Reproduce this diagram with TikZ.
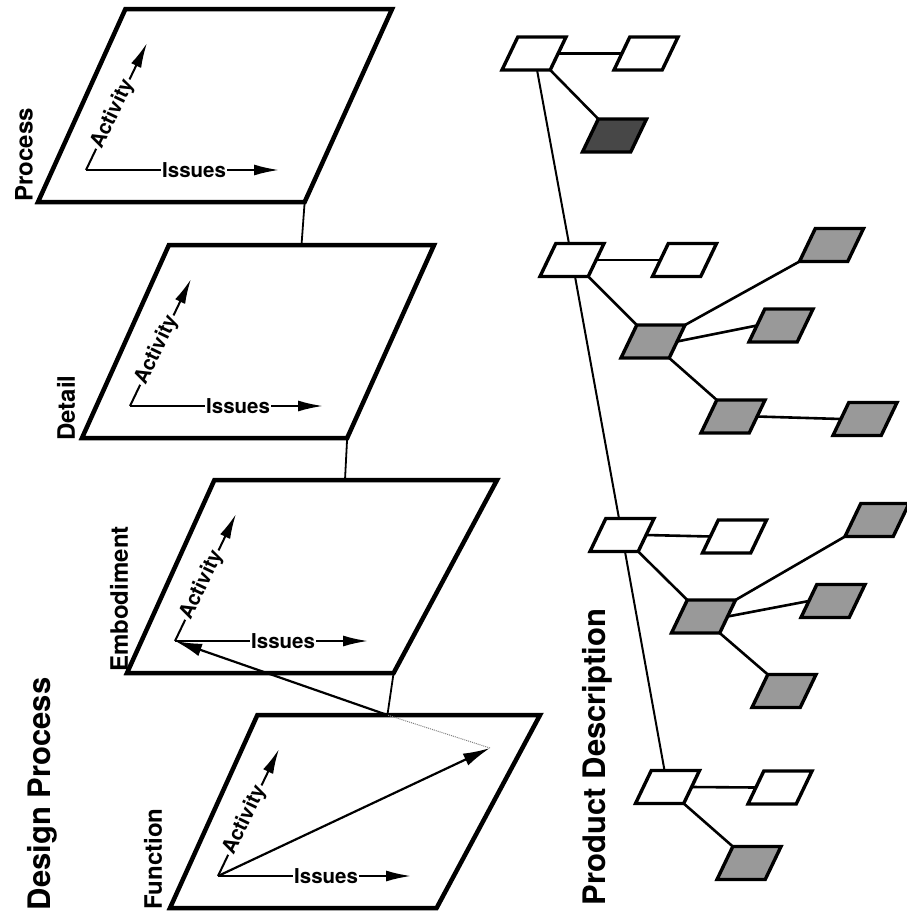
\documentclass[tikz,border=0pt]{standalone}
\usepackage{fontspec}
\setmainfont{TeX Gyre Heros}
\usetikzlibrary{arrows.meta,calc,positioning,shapes.geometric}

\begin{document}
\begin{tikzpicture}[x=1pt,y=-1pt,% pixel-like units, y runs downwards
	every node/.style={font=\bfseries},
	plane/.style={trapezium,trapezium stretches=true,draw,line width=4.5pt,
		trapezium left angle=64,trapezium right angle=116,
		minimum height=193pt,inner sep=1pt,outer sep=0pt},
	part/.style={trapezium,trapezium stretches=true,draw,line width=3.4pt,
		trapezium left angle=64,trapezium right angle=116,
		minimum height=33pt,minimum width=64pt,inner sep=1pt,outer sep=0pt,fill=white},
	partgray/.style={part,fill=black!40},
	partdark/.style={part,fill=black!72},
	axis/.style={line width=2pt,-{Latex[length=25pt,width=11pt]}},
	vector/.style={line width=2.2pt,-{Latex[length=27pt,width=13pt]}},
	axlabel/.style={font=\bfseries\fontsize{20.5}{20.5}\selectfont,fill=white,inner sep=1.5pt},
	planelabel/.style={rotate=90,font=\bfseries\fontsize{24}{24}\selectfont},
	title/.style={rotate=90,font=\bfseries\fontsize{31}{31}\selectfont},
	link/.style={line width=2.6pt},
	trunk/.style={line width=2pt}
	]
	\useasboundingbox (0,0) rectangle (907,918);
	% the four design planes
	\node[plane,minimum width=354pt,anchor=bottom left corner](process) at (38,202) {};
	\node[plane,minimum width=352pt,anchor=bottom left corner](detail) at (82,438) {};
	\node[plane,minimum width=370pt,trapezium right angle=120,anchor=bottom left corner](embod) at (127,673) {};
	\node[plane,minimum width=370pt,trapezium right angle=120,anchor=bottom left corner](func) at (170,908) {};
	\node[planelabel] at (24,155) {Process};
	\node[planelabel] at (66,408) {Detail};
	\node[planelabel] at (119,599) {Embodiment};
	\node[planelabel] at (153,859) {Function};
	\node[title] at (42,794) {Design Process};
	% axes in every plane
	\foreach \p in {process,detail,embod,func}{
		\coordinate (\p-o) at ($(\p.bottom left corner)+(48,-32)$);
		\draw[axis] (\p-o) -- node[axlabel,pos=0.56]{Issues} ++(193,0);
		\draw[axis] (\p-o) -- node[axlabel,pos=0.44,sloped]{Activity} ++(61,-127);
	}
	\coordinate (emb-in) at ($(embod.top left corner)!0.462!(embod.top right corner)$);
	\coordinate (fun-in) at ($(func.top left corner)!0.46!(func.top right corner)$);
	\draw[line width=1.8pt] (process.bottom right corner) -- (detail.top side);
	\draw[line width=1.8pt] (detail.bottom right corner) -- (emb-in);
	\draw[line width=1.8pt] (embod.bottom right corner) -- (fun-in);
	% vector carried from function to embodiment
	\coordinate (fun-tip) at (490,748);
	\draw[vector] (func-o) -- (fun-tip);
	\draw[gray,densely dotted,line width=1pt] (fun-tip) -- (fun-in);
	\draw[vector] (fun-in) -- (embod-o);

	% product description tree
	\node[part](r1) at (534,53.5) {};
	\node[part](w1) at (646,53.5) {};
	\node[partdark](g1) at (614.5,135.5) {};
	\node[part](r2) at (572,260) {};
	\node[part](w2) at (684.5,260) {};
	\node[partgray](g2) at (653,341.5) {};
	\node[partgray](g2a) at (831.5,245) {};
	\node[partgray](g2b) at (781,325.5) {};
	\node[partgray](g2c) at (733,416.5) {};
	\node[partgray](g2d) at (865,419) {};
	\node[part](r3) at (622,535) {};
	\node[part](w3) at (734.5,536.5) {};
	\node[partgray](g3) at (703.5,616.5) {};
	\node[partgray](g3a) at (877,520) {};
	\node[partgray](g3b) at (833,601) {};
	\node[partgray](g3c) at (784,691) {};
	\node[part](r4) at (667.5,787) {};
	\node[part](w4) at (780,787.5) {};
	\node[partgray](g4) at (749,863) {};
	\node[title] at (597,757) {Product Description};
	\draw[trunk] (r1) -- (r2) (r2) -- (r3) (r3) -- (r4);
	\foreach \n in {1,2,3,4}{
		\draw[link] (r\n.right side) -- (w\n.left side);
		\draw[link] (r\n.bottom right corner) -- (g\n.top left corner);
	}
	\foreach \n in {2,3}{
		\draw[link] (g\n.top right corner) -- (g\n a.bottom left corner);
		\draw[link] (g\n.right side) -- (g\n b.left side);
		\draw[link] (g\n.bottom right corner) -- (g\n c.top left corner);
	}
	\draw[link] (g2c.right side) -- (g2d.left side);
\end{tikzpicture}
\end{document}
